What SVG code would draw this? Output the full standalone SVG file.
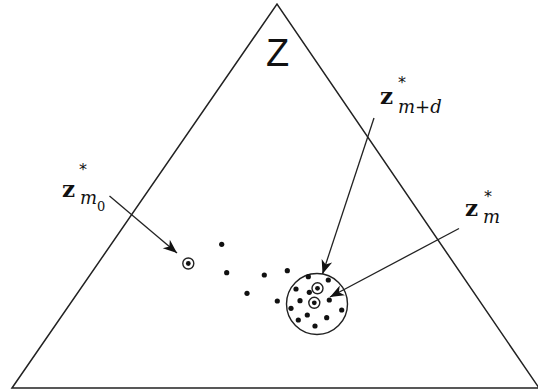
<svg xmlns="http://www.w3.org/2000/svg" width="538" height="391" viewBox="0 0 538 391">
<style>
.frame{fill:none;stroke:#222;stroke-width:1.5}
.arr{fill:none;stroke:#222;stroke-width:1.3;marker-end:url(#ah)}
.dot{fill:#111}
.ring{fill:none;stroke:#222;stroke-width:1.4}
.zb{font-family:"DejaVu Serif",serif;font-weight:bold;font-size:23px;fill:#111}
.sub{font-family:"DejaVu Serif",serif;font-style:italic;font-size:18px;fill:#111}
.star{font-family:"DejaVu Sans",sans-serif;font-size:16px;fill:#111}
.big{font-family:"Liberation Sans",Arial,sans-serif;font-size:38px;fill:#111}
</style>
<defs>
<marker id="ah" viewBox="-15 -6 16 12" refX="0" refY="0" markerWidth="16" markerHeight="12" markerUnits="userSpaceOnUse" orient="auto">
<path d="M0,0 L-14,-5.5 L-10,0 L-14,5.5 Z" fill="#111"/>
</marker>
</defs>
<rect width="538" height="391" fill="#fff"/>
<g id="space">
<polygon class="frame" points="12,388 277,4 539,388"/>
<text class="big" x="266" y="66">Z</text>
</g>
<g id="cluster">
<circle class="ring" cx="317" cy="304" r="30.5"/>
</g>
<g id="z_m0">
<circle class="ring" cx="188.3" cy="263.5" r="5.5"/>
<circle class="dot" cx="188.3" cy="263.5" r="2.4"/>
</g>
<g id="z_md">
<circle class="ring" cx="317.5" cy="288.3" r="5.5"/>
<circle class="dot" cx="317.5" cy="288.3" r="2.4"/>
</g>
<g id="z_m">
<circle class="ring" cx="314.3" cy="302.8" r="5.5"/>
<circle class="dot" cx="314.3" cy="302.8" r="2.4"/>
</g>
<g id="points">
<circle class="dot" cx="221.7" cy="244.3" r="2.6"/>
<circle class="dot" cx="226.7" cy="272.7" r="2.6"/>
<circle class="dot" cx="264.3" cy="275" r="2.6"/>
<circle class="dot" cx="287.3" cy="270.7" r="2.6"/>
<circle class="dot" cx="247" cy="293.3" r="2.6"/>
<circle class="dot" cx="277.3" cy="301" r="2.6"/>
<circle class="dot" cx="308.3" cy="276.7" r="2.6"/>
<circle class="dot" cx="328.3" cy="280" r="2.6"/>
<circle class="dot" cx="296" cy="289" r="2.6"/>
<circle class="dot" cx="309.3" cy="292.3" r="2.6"/>
<circle class="dot" cx="300" cy="300.7" r="2.6"/>
<circle class="dot" cx="329.3" cy="300" r="2.6"/>
<circle class="dot" cx="291" cy="308.3" r="2.6"/>
<circle class="dot" cx="341.7" cy="310" r="2.6"/>
<circle class="dot" cx="307.3" cy="315" r="2.6"/>
<circle class="dot" cx="326.7" cy="317.7" r="2.6"/>
<circle class="dot" cx="298.3" cy="320" r="2.6"/>
<circle class="dot" cx="315" cy="326" r="2.6"/>
</g>
<g id="connectors">
<line class="arr" x1="109.5" y1="196" x2="177" y2="253"/>
<line class="arr" x1="374" y1="118" x2="322.5" y2="274"/>
<line class="arr" x1="459" y1="228.5" x2="330" y2="297"/>
</g>
<g id="label_m0">
<text class="zb" x="62" y="197">z</text>
<text class="star" x="79" y="175">*</text>
<text class="sub" x="80" y="204">m</text>
<text class="sub" x="97" y="211" style="font-style:normal;font-size:13px">0</text>
</g>
<g id="label_md">
<text class="zb" x="380" y="104">z</text>
<text class="star" x="398" y="88">*</text>
<text class="sub" x="398" y="113">m+d</text>
</g>
<g id="label_m">
<text class="zb" x="465" y="216">z</text>
<text class="star" x="484" y="202">*</text>
<text class="sub" x="483" y="223">m</text>
</g>
</svg>
